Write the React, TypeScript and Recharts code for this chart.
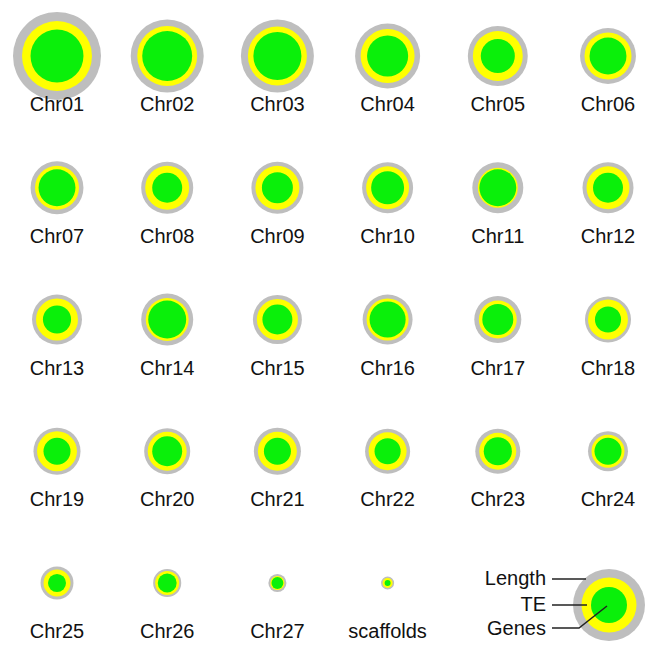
import {
  ScatterChart,
  Scatter,
  XAxis,
  YAxis,
  ZAxis,
  LabelList,
  Customized,
} from "recharts";

// chromosome names in reading order (6 per row)
const chromosomes = [
  "Chr01", "Chr02", "Chr03", "Chr04", "Chr05", "Chr06",
  "Chr07", "Chr08", "Chr09", "Chr10", "Chr11", "Chr12",
  "Chr13", "Chr14", "Chr15", "Chr16", "Chr17", "Chr18",
  "Chr19", "Chr20", "Chr21", "Chr22", "Chr23", "Chr24",
  "Chr25", "Chr26", "Chr27", "scaffolds",
];

// sizes (Mb, estimated from circle areas)
const lengthMb = [
  50.0, 34.4, 34.4, 27.3, 23.2, 20.2,
  18.1, 17.5, 17.5, 16.8, 16.8, 16.8,
  16.1, 17.5, 15.5, 16.1, 14.3, 13.7,
  14.3, 13.7, 14.3, 13.1, 13.1, 10.3,
  7.0, 5.1, 2.1, 1.1,
];
const teMb = [
  31.6, 23.2, 22.5, 18.8, 16.1, 14.3,
  12.5, 12.5, 12.5, 11.9, 10.3, 11.9,
  11.4, 11.9, 10.9, 11.4, 9.3, 10.3,
  10.3, 9.8, 9.8, 9.3, 8.8, 7.0,
  4.7, 3.7, 1.3, 0.65,
];
const genesMb = [
  18.1, 16.1, 14.9, 10.9, 7.5, 8.8,
  8.8, 5.8, 6.2, 7.0, 8.8, 5.8,
  5.1, 9.3, 5.8, 8.4, 6.2, 4.4,
  4.7, 5.8, 4.7, 4.4, 5.1, 4.7,
  2.1, 2.3, 0.9, 0.23,
];

const legendLabels = ["Length", "TE", "Genes"];

const COLS = 6;
const Z_MAX = 50;
const AREA_MAX = Math.PI * 44 * 44;

const GRAY = "#BEBEBE";
const YELLOW = "#FFFF00";
const GREEN = "#0AF00A";
const FONT = "'Liberation Sans', Arial, sans-serif";

const data = chromosomes.map((name, i) => ({
  name,
  col: i % COLS,
  row: Math.floor(i / COLS),
  length: lengthMb[i],
  te: teMb[i],
  genes: genesMb[i],
}));

const renderName = (props: any) => {
  const { x, y, width, height, value } = props;
  const cx = Number(x) + Number(width) / 2;
  const cy = Number(y) + Number(height) / 2;
  return (
    <text
      x={cx}
      y={cy + 55}
      textAnchor="middle"
      fontSize={20}
      fontFamily={FONT}
      fill="#111"
    >
      {value}
    </text>
  );
};

const RingLegend = () => {
  const cx = 609;
  const cy = 605;
  const rows = [578, 604, 628];
  return (
    <g>
      <circle cx={cx} cy={cy} r={36} fill={GRAY} />
      <circle cx={cx} cy={cy} r={27.5} fill={YELLOW} />
      <circle cx={cx} cy={cy} r={18} fill={GREEN} />
      {legendLabels.map((label, i) => (
        <text
          key={label}
          x={546}
          y={rows[i] + 7}
          textAnchor="end"
          fontSize={20}
          fontFamily={FONT}
          fill="#111"
        >
          {label}
        </text>
      ))}
      <line x1={552} y1={579} x2={586} y2={579} stroke="#222" strokeWidth={1.5} />
      <line x1={552} y1={605} x2={587} y2={605} stroke="#222" strokeWidth={1.5} />
      <polyline
        points="552,628 579,628 607,606"
        fill="none"
        stroke="#222"
        strokeWidth={1.5}
      />
    </g>
  );
};

export default function App() {
  return (
    <div style={{ position: "absolute", left: 0, top: 0, background: "#fff" }}>
      <ScatterChart
        width={648}
        height={645}
        margin={{ top: 56, right: 40, bottom: 62, left: 57 }}
      >
        <XAxis type="number" dataKey="col" domain={[0, 5]} hide />
        <YAxis type="number" dataKey="row" domain={[0, 4]} reversed hide />
        <ZAxis zAxisId="length" type="number" dataKey="length" domain={[0, Z_MAX]} range={[0, AREA_MAX]} />
        <ZAxis zAxisId="te" type="number" dataKey="te" domain={[0, Z_MAX]} range={[0, AREA_MAX]} />
        <ZAxis zAxisId="genes" type="number" dataKey="genes" domain={[0, Z_MAX]} range={[0, AREA_MAX]} />
        <Scatter data={data} zAxisId="length" fill={GRAY} isAnimationActive={false}>
          <LabelList dataKey="name" content={renderName} />
        </Scatter>
        <Scatter data={data} zAxisId="te" fill={YELLOW} isAnimationActive={false} />
        <Scatter data={data} zAxisId="genes" fill={GREEN} isAnimationActive={false} />
        <Customized component={RingLegend} />
      </ScatterChart>
    </div>
  );
}
